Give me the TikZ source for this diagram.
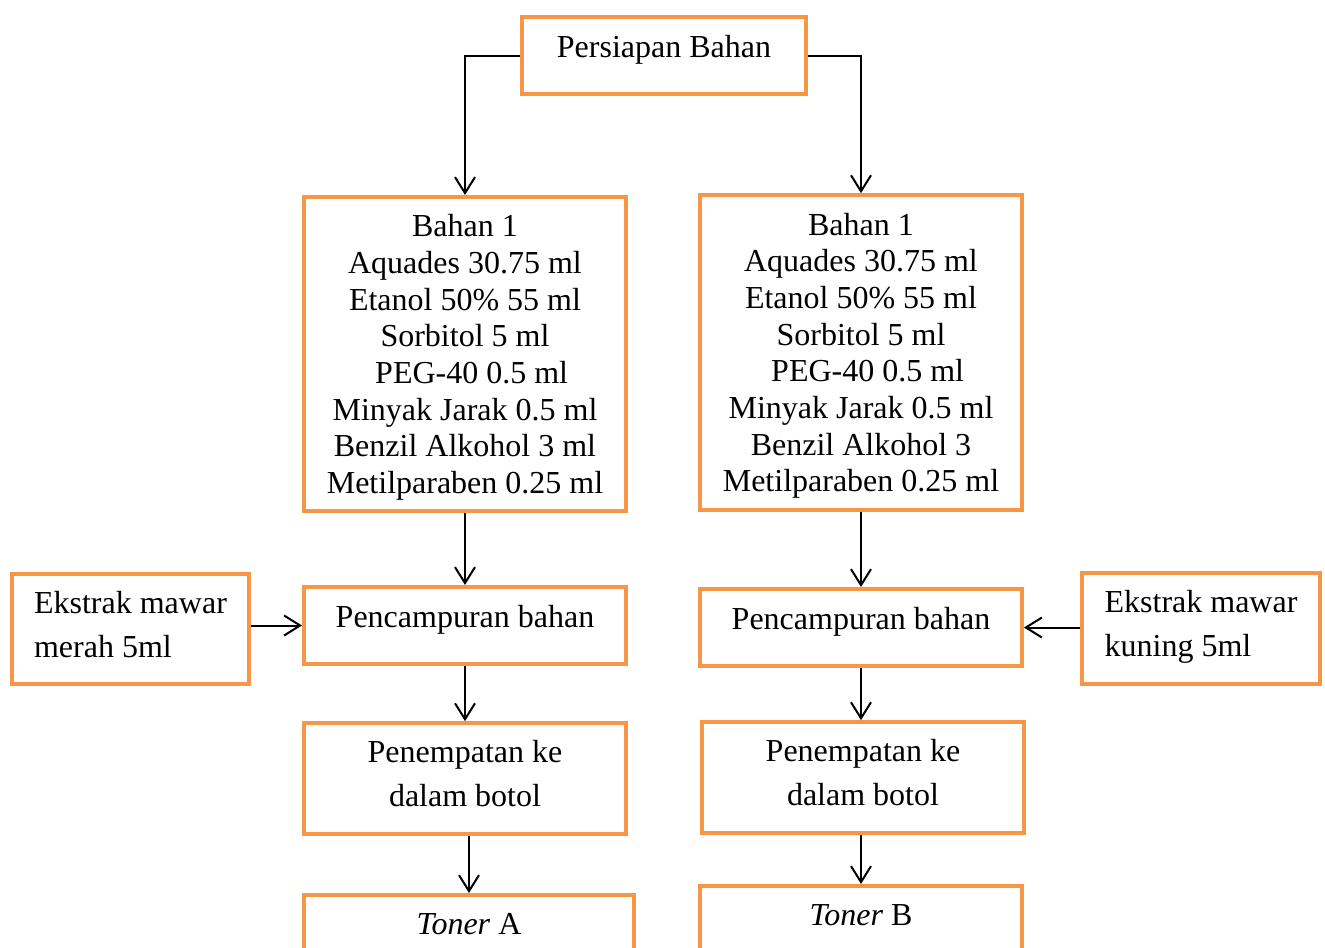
\documentclass[tikz,border=0pt]{standalone}
\usepackage{fontspec}
\setmainfont{Liberation Serif}
\usetikzlibrary{arrows.meta}
\definecolor{boxorange}{RGB}{247,150,70}
\newcommand{\boxfont}{\fontsize{24}{27.5}\selectfont}
\newcommand{\loosefont}{\fontsize{24}{33}\selectfont}
\tikzstyle{box} = [draw=boxorange, line width=3pt, align=center, inner sep=0pt, font=\boxfont]
\tikzstyle{arrow} = [line width=1.5pt, -{Straight Barb[length=12pt,width=15pt]}]

\begin{document}
\begin{tikzpicture}[x=0.75pt,y=0.75pt,yscale=-1,xscale=1]
\useasboundingbox (0,0) rectangle (1325,947);
\clip (0,0) rectangle (1325,947);

%Shape: top box
\node [box, minimum width=213pt, minimum height=57.75pt, text depth=14pt] (prep) at (664,55.5) {Persiapan Bahan};

%Shape: ingredient boxes
\node [box, minimum width=241.5pt, minimum height=235.5pt, text depth=0pt] (bahanA) at (465,354) {Bahan 1\\Aquades 30.75 ml\\Etanol 50\%\ 55 ml\\Sorbitol 5 ml\\\hspace*{10pt}PEG-40 0.5 ml\\Minyak Jarak 0.5 ml\\Benzil Alkohol 3 ml\\Metilparaben 0.25 ml};
\node [box, minimum width=241.5pt, minimum height=236pt, text depth=0pt] (bahanB) at (861,352.5) {Bahan 1\\Aquades 30.75 ml\\Etanol 50\%\ 55 ml\\Sorbitol 5 ml\\\hspace*{10pt}PEG-40 0.5 ml\\Minyak Jarak 0.5 ml\\Benzil Alkohol 3\\Metilparaben 0.25 ml};

%Shape: mixing boxes
\node [box, minimum width=241.5pt, minimum height=57.75pt, text depth=14pt] (campurA) at (465,625.5) {Pencampuran bahan};
\node [box, minimum width=241.5pt, minimum height=57.75pt, text depth=14pt] (campurB) at (861,627.5) {Pencampuran bahan};

%Shape: extract boxes
\node [box, font=\loosefont, align=left, minimum width=177.75pt, minimum height=82.5pt, text depth=7.5pt] (ekstrakA) at (130.5,629) {Ekstrak mawar\\merah 5ml};
\node [box, font=\loosefont, align=left, minimum width=178.5pt, minimum height=83pt, text depth=7.5pt] (ekstrakB) at (1201,628.5) {Ekstrak mawar\\kuning 5ml};

%Shape: bottling boxes
\node [box, font=\loosefont, minimum width=241.5pt, minimum height=83pt, text depth=7.5pt] (botolA) at (465,778.5) {Penempatan ke\\dalam botol};
\node [box, font=\loosefont, minimum width=241.5pt, minimum height=83pt, text depth=7.5pt] (botolB) at (863,777.5) {Penempatan ke\\dalam botol};

%Shape: toner boxes
\node [box, minimum width=247.5pt, minimum height=57.75pt, text depth=14pt] (tonerA) at (469,933.5) {\textit{Toner} A};
\node [box, minimum width=241.5pt, minimum height=57.75pt, text depth=14pt] (tonerB) at (861,924.5) {\textit{Toner} B};

%Straight Lines: arrows
\draw [arrow] (prep.west) -| (bahanA.north);
\draw [arrow] (prep.east) -| (bahanB.north);
\draw [arrow] (bahanA.south) -- (campurA.north);
\draw [arrow] (bahanB.south) -- (campurB.north);
\draw [arrow] (ekstrakA.east |- campurA.west) -- (campurA.west);
\draw [arrow] (ekstrakB.west |- campurB.east) -- (campurB.east);
\draw [arrow] (campurA.south) -- (botolA.north);
\draw [arrow] (campurB.south) -- (campurB.south |- botolB.north);
\draw [arrow] (tonerA.north |- botolA.south) -- (tonerA.north);
\draw [arrow] (tonerB.north |- botolB.south) -- (tonerB.north);

\end{tikzpicture}
\end{document}
